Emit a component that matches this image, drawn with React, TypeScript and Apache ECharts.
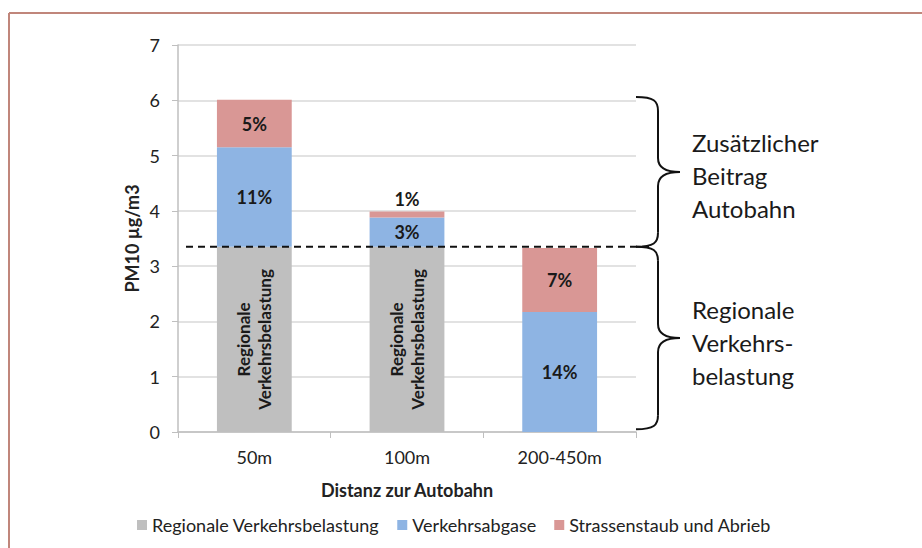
import React, { useEffect, useRef } from "react";
import * as echarts from "echarts";

const categories = ["50m", "100m", "200-450m"];
const regionalValues = [3.35, 3.35, 0];
const abgaseValues = [1.8, 0.53, 2.17];
const staubValues = [0.86, 0.11, 1.16];
const abgaseLabels = ["11%", "3%", "14%"];
const staubLabels = ["5%", "1%", "7%"];
const regionalLevel = 3.35;
const upperBraceTop = 6.06;
const lowerBraceBottom = 0.05;
const seriesNames = ["Regionale Verkehrsbelastung", "Verkehrsabgase", "Strassenstaub und Abrieb"];
const yTicks = [0, 1, 2, 3, 4, 5, 6, 7];

const FONT = "Lato, 'Open Sans', sans-serif";
const GREY = "#bfbfbf";
const BLUE = "#8eb4e3";
const RED = "#d99795";

export default function App() {
  const ref = useRef<HTMLDivElement>(null);
  useEffect(() => {
    document.body.style.margin = "0";
    const chart = echarts.init(ref.current!, null, { renderer: "svg" });
    const option: any = {
      animation: false,
      textStyle: { fontFamily: FONT },
      grid: { left: 178, right: 286, top: 45, bottom: 116 },
      legend: {
        left: 132,
        top: 511,
        itemWidth: 10,
        itemHeight: 10,
        itemGap: 18,
        icon: "rect",
        textStyle: { fontSize: 18, color: "#222", fontFamily: FONT },
        data: seriesNames,
      },
      xAxis: {
        type: "category",
        data: categories,
        name: "Distanz zur Autobahn",
        nameLocation: "middle",
        nameGap: 49,
        nameTextStyle: { fontSize: 18, fontWeight: "bold", color: "#222", fontFamily: FONT },
        axisLine: { lineStyle: { color: "#bfbfbf", width: 1.5 } },
        axisTick: { show: true, length: 6, lineStyle: { color: "#bfbfbf" } },
        axisLabel: { fontSize: 18, color: "#222", margin: 16, fontFamily: FONT },
      },
      yAxis: {
        type: "value",
        min: 0,
        max: yTicks[yTicks.length - 1],
        interval: 1,
        name: "PM10 µg/m3",
        nameLocation: "middle",
        nameRotate: 90,
        nameGap: 37,
        nameTextStyle: { fontSize: 18, fontWeight: "bold", color: "#222", fontFamily: FONT },
        axisLine: { show: true, lineStyle: { color: "#bfbfbf", width: 1.5 } },
        axisTick: { show: true, length: 6, lineStyle: { color: "#bfbfbf" } },
        axisLabel: { fontSize: 18, color: "#222", margin: 18, fontFamily: FONT },
        splitLine: { lineStyle: { color: "#d9d9d9", width: 1.5 } },
      },
      series: [
        {
          name: seriesNames[0],
          type: "bar",
          stack: "t",
          barWidth: "49%",
          itemStyle: { color: GREY },
          data: regionalValues,
          label: {
            show: true,
            position: "inside",
            rotate: 90,
            formatter: (p: any) => (p.value > 0 ? "Regionale\nVerkehrsbelastung" : ""),
            fontSize: 17,
            fontWeight: "bold",
            color: "#1a1a1a",
            lineHeight: 21,
            fontFamily: FONT,
          },
        },
        {
          name: seriesNames[1],
          type: "bar",
          stack: "t",
          itemStyle: { color: BLUE },
          data: abgaseValues,
          label: {
            show: true,
            position: "inside",
            formatter: (p: any) => abgaseLabels[p.dataIndex],
            fontSize: 18,
            fontWeight: "bold",
            color: "#1a1a1a",
            fontFamily: FONT,
          },
        },
        {
          name: seriesNames[2],
          type: "bar",
          stack: "t",
          itemStyle: { color: RED },
          data: staubValues.map((v) =>
            v < 0.3 ? { value: v, label: { position: "top", distance: 3 } } : { value: v }
          ),
          label: {
            show: true,
            position: "inside",
            formatter: (p: any) => staubLabels[p.dataIndex],
            fontSize: 18,
            fontWeight: "bold",
            color: "#1a1a1a",
            fontFamily: FONT,
          },
        },
      ],
    };
    chart.setOption(option);

    const yPx = (v: number) => chart.convertToPixel({ yAxisIndex: 0 }, v) as number;
    const yMid = yPx(regionalLevel);
    const yTop = yPx(upperBraceTop);
    const yBot = yPx(lowerBraceBottom);

    const braceX0 = 636;
    const braceX1 = 658;
    const braceTip = 680;
    const braceStyle = { stroke: "#111", lineWidth: 2, fill: "none" };
    const brace = (top: number, bottom: number) => {
      const mid = (top + bottom) / 2;
      const r = 14;
      return [
        { type: "bezierCurve", shape: { x1: braceX0, y1: top, x2: braceX1, y2: top + r, cpx1: braceX1 - 4, cpy1: top, cpx2: braceX1, cpy2: top + 4 }, style: braceStyle },
        { type: "line", shape: { x1: braceX1, y1: top + r, x2: braceX1, y2: mid - r }, style: braceStyle },
        { type: "bezierCurve", shape: { x1: braceX1, y1: mid - r, x2: braceTip, y2: mid, cpx1: braceX1, cpy1: mid - 3, cpx2: braceTip - 12, cpy2: mid }, style: braceStyle },
        { type: "bezierCurve", shape: { x1: braceTip, y1: mid, x2: braceX1, y2: mid + r, cpx1: braceTip - 12, cpy1: mid, cpx2: braceX1, cpy2: mid + 3 }, style: braceStyle },
        { type: "line", shape: { x1: braceX1, y1: mid + r, x2: braceX1, y2: bottom - r }, style: braceStyle },
        { type: "bezierCurve", shape: { x1: braceX1, y1: bottom - r, x2: braceX0, y2: bottom, cpx1: braceX1, cpy1: bottom - 4, cpx2: braceX1 - 4, cpy2: bottom }, style: braceStyle },
      ];
    };
    const annoText = (txt: string, y: number) => ({
      type: "text",
      x: 692,
      y,
      style: { text: txt, fontSize: 24, fontFamily: FONT, fill: "#1a1a1a", lineHeight: 33, verticalAlign: "middle" },
    });

    chart.setOption({
      graphic: [
        { type: "line", shape: { x1: 9, y1: 13, x2: 922, y2: 13 }, style: { stroke: "#c0867b", lineWidth: 2 } },
        { type: "line", shape: { x1: 9, y1: 13, x2: 9, y2: 548 }, style: { stroke: "#c0867b", lineWidth: 2 } },
        { type: "line", z: 100, shape: { x1: 186, y1: yMid, x2: 650, y2: yMid }, style: { stroke: "#111", lineWidth: 2, lineDash: [7, 5] } },
        ...brace(yTop, yMid),
        ...brace(yMid, yBot),
        annoText("Zusätzlicher\nBeitrag\nAutobahn", (yTop + yMid) / 2 + 4),
        annoText("Regionale\nVerkehrs-\nbelastung", (yMid + yBot) / 2 + 4),
      ],
    });
    return () => chart.dispose();
  }, []);
  return <div ref={ref} style={{ width: 922, height: 548 }} />;
}
